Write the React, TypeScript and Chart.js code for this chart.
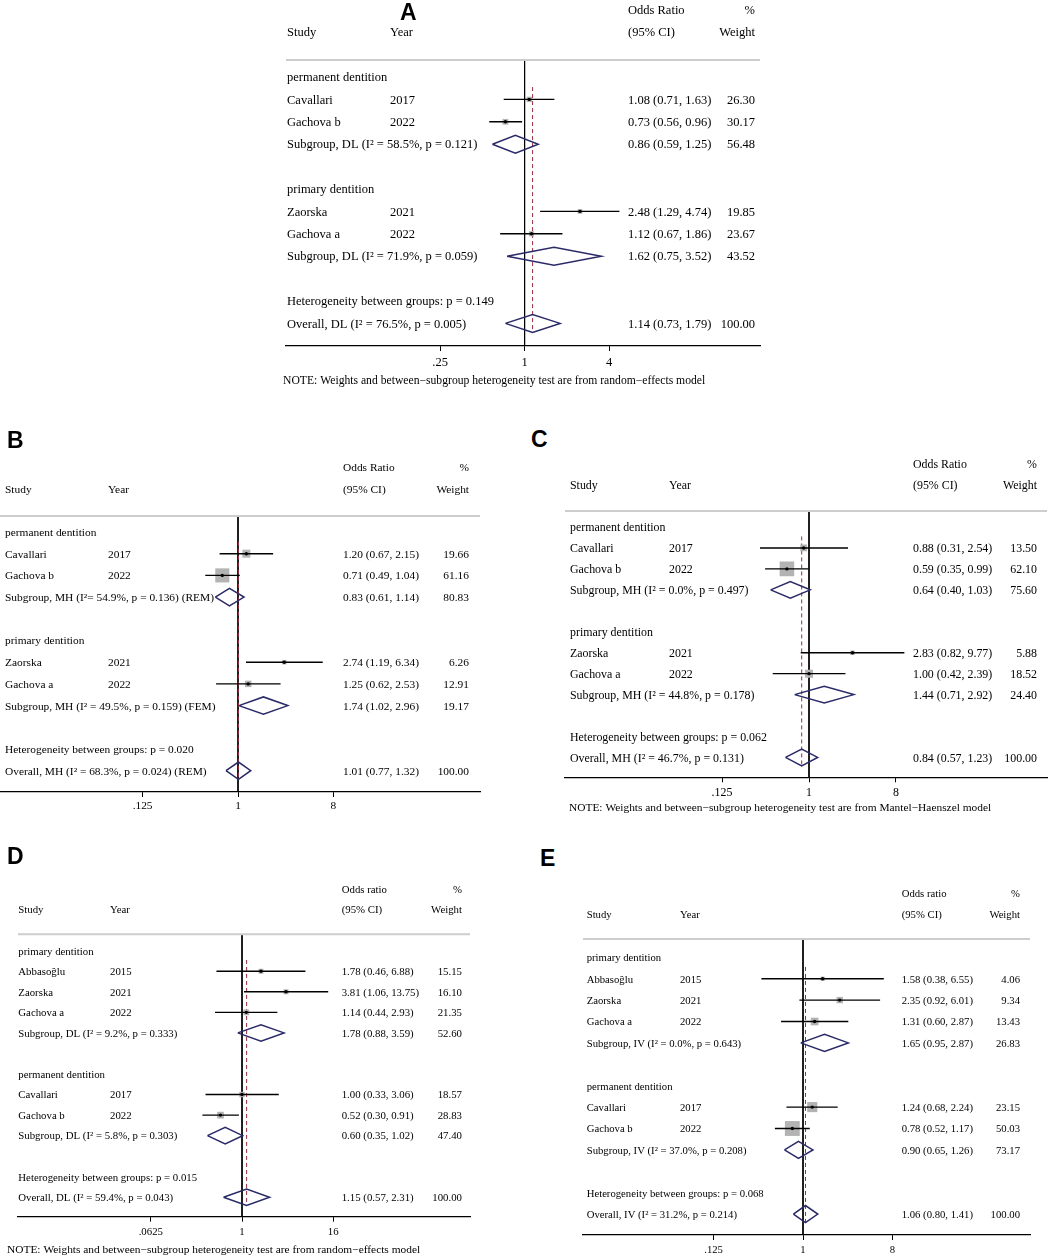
import React, { useEffect, useRef } from "react";
import { Chart, registerables } from "chart.js";
Chart.register(...registerables);

// ---------------- Panel A ----------------
const A_type = ["g", "s", "s", "d", "", "g", "s", "s", "d", "", "h", "o"];
const A_label = ["permanent dentition", "Cavallari", "Gachova b", "Subgroup, DL (I² = 58.5%, p = 0.121)", "", "primary dentition", "Zaorska", "Gachova a", "Subgroup, DL (I² = 71.9%, p = 0.059)", "", "Heterogeneity between groups: p = 0.149", "Overall, DL (I² = 76.5%, p = 0.005)"];
const A_year = ["", "2017", "2022", "", "", "", "2021", "2022", "", "", "", ""];
const A_or = [null, 1.08, 0.73, 0.86, null, null, 2.48, 1.12, 1.62, null, null, 1.14];
const A_lo = [null, 0.71, 0.56, 0.59, null, null, 1.29, 0.67, 0.75, null, null, 0.73];
const A_hi = [null, 1.63, 0.96, 1.25, null, null, 4.74, 1.86, 3.52, null, null, 1.79];
const A_weight = [null, 26.3, 30.17, 56.48, null, null, 19.85, 23.67, 43.52, null, null, 100.0];
const A_ticks = [0.25, 1, 4];
const A_tickLabels = [".25", "1", "4"];

// ---------------- Panel B ----------------
const B_type = ["g", "s", "s", "d", "", "g", "s", "s", "d", "", "h", "o"];
const B_label = ["permanent dentition", "Cavallari", "Gachova b", "Subgroup, MH (I²= 54.9%, p = 0.136) (REM)", "", "primary dentition", "Zaorska", "Gachova a", "Subgroup, MH (I² = 49.5%, p = 0.159) (FEM)", "", "Heterogeneity between groups: p = 0.020", "Overall, MH (I² = 68.3%, p = 0.024) (REM)"];
const B_year = ["", "2017", "2022", "", "", "", "2021", "2022", "", "", "", ""];
const B_or = [null, 1.2, 0.71, 0.83, null, null, 2.74, 1.25, 1.74, null, null, 1.01];
const B_lo = [null, 0.67, 0.49, 0.61, null, null, 1.19, 0.62, 1.02, null, null, 0.77];
const B_hi = [null, 2.15, 1.04, 1.14, null, null, 6.34, 2.53, 2.96, null, null, 1.32];
const B_weight = [null, 19.66, 61.16, 80.83, null, null, 6.26, 12.91, 19.17, null, null, 100.0];
const B_ticks = [0.125, 1, 8];
const B_tickLabels = [".125", "1", "8"];

// ---------------- Panel C ----------------
const C_type = ["g", "s", "s", "d", "", "g", "s", "s", "d", "", "h", "o"];
const C_label = ["permanent dentition", "Cavallari", "Gachova b", "Subgroup, MH (I² = 0.0%, p = 0.497)", "", "primary dentition", "Zaorska", "Gachova a", "Subgroup, MH (I² = 44.8%, p = 0.178)", "", "Heterogeneity between groups: p = 0.062", "Overall, MH (I² = 46.7%, p = 0.131)"];
const C_year = ["", "2017", "2022", "", "", "", "2021", "2022", "", "", "", ""];
const C_or = [null, 0.88, 0.59, 0.64, null, null, 2.83, 1.0, 1.44, null, null, 0.84];
const C_lo = [null, 0.31, 0.35, 0.4, null, null, 0.82, 0.42, 0.71, null, null, 0.57];
const C_hi = [null, 2.54, 0.99, 1.03, null, null, 9.77, 2.39, 2.92, null, null, 1.23];
const C_weight = [null, 13.5, 62.1, 75.6, null, null, 5.88, 18.52, 24.4, null, null, 100.0];
const C_ticks = [0.125, 1, 8];
const C_tickLabels = [".125", "1", "8"];

// ---------------- Panel D ----------------
const D_type = ["g", "s", "s", "s", "d", "", "g", "s", "s", "d", "", "h", "o"];
const D_label = ["primary dentition", "Abbasoğlu", "Zaorska", "Gachova a", "Subgroup, DL (I² = 9.2%, p = 0.333)", "", "permanent dentition", "Cavallari", "Gachova b", "Subgroup, DL (I² = 5.8%, p = 0.303)", "", "Heterogeneity between groups: p = 0.015", "Overall, DL (I² = 59.4%, p = 0.043)"];
const D_year = ["", "2015", "2021", "2022", "", "", "", "2017", "2022", "", "", "", ""];
const D_or = [null, 1.78, 3.81, 1.14, 1.78, null, null, 1.0, 0.52, 0.6, null, null, 1.15];
const D_lo = [null, 0.46, 1.06, 0.44, 0.88, null, null, 0.33, 0.3, 0.35, null, null, 0.57];
const D_hi = [null, 6.88, 13.75, 2.93, 3.59, null, null, 3.06, 0.91, 1.02, null, null, 2.31];
const D_weight = [null, 15.15, 16.1, 21.35, 52.6, null, null, 18.57, 28.83, 47.4, null, null, 100.0];
const D_ticks = [0.0625, 1, 16];
const D_tickLabels = [".0625", "1", "16"];

// ---------------- Panel E ----------------
const E_type = ["g", "s", "s", "s", "d", "", "g", "s", "s", "d", "", "h", "o"];
const E_label = ["primary dentition", "Abbasoğlu", "Zaorska", "Gachova a", "Subgroup, IV (I² = 0.0%, p = 0.643)", "", "permanent dentition", "Cavallari", "Gachova b", "Subgroup, IV (I² = 37.0%, p = 0.208)", "", "Heterogeneity between groups: p = 0.068", "Overall, IV (I² = 31.2%, p = 0.214)"];
const E_year = ["", "2015", "2021", "2022", "", "", "", "2017", "2022", "", "", "", ""];
const E_or = [null, 1.58, 2.35, 1.31, 1.65, null, null, 1.24, 0.78, 0.9, null, null, 1.06];
const E_lo = [null, 0.38, 0.92, 0.6, 0.95, null, null, 0.68, 0.52, 0.65, null, null, 0.8];
const E_hi = [null, 6.55, 6.01, 2.87, 2.87, null, null, 2.24, 1.17, 1.26, null, null, 1.41];
const E_weight = [null, 4.06, 9.34, 13.43, 26.83, null, null, 23.15, 50.03, 73.17, null, null, 100.0];
const E_ticks = [0.125, 1, 8];
const E_tickLabels = [".125", "1", "8"];

const NOTE_RE = "NOTE: Weights and between\u2212subgroup heterogeneity test are from random\u2212effects model";
const NOTE_MH = "NOTE: Weights and between\u2212subgroup heterogeneity test are from Mantel\u2212Haenszel model";

type Lay = {
  L: number; T: number; W: number; H: number; x1: number; x2: number; one: number; unit: number;
  y0: number; s: number; axisY: number; topLineY: number; studyX: number; yearX: number; estX: number;
  wRight: number; font: number; k: number; noteX?: number; noteY?: number; noteFont?: number; tickPad: number;
};

type PanelData = {
  type: string[]; label: string[]; year: string[]; or: (number | null)[]; lo: (number | null)[];
  hi: (number | null)[]; weight: (number | null)[]; ticks: number[]; tickLabels: string[];
  orHeader: string; note?: string;
};

const SERIF = '"Liberation Serif", "Times New Roman", serif';

function ForestPanel({ d, lay }: { d: PanelData; lay: Lay }) {
  const ref = useRef<HTMLCanvasElement>(null);
  useEffect(() => {
    if (!ref.current) return;
    const yTop = (lay.T - lay.y0) / lay.s;
    const yBot = (lay.axisY - lay.y0) / lay.s;
    const topRow = (lay.topLineY - lay.y0) / lay.s;
    const xMin = Math.pow(2, (lay.x1 - lay.one) / lay.unit);
    const xMax = Math.pow(2, (lay.x2 - lay.one) / lay.unit);
    const studies = d.type.map((t, i) => (t === "s" ? i : -1)).filter((i) => i >= 0);
    const dias = d.type.map((t, i) => (t === "d" || t === "o" ? i : -1)).filter((i) => i >= 0);
    const ov = d.type.indexOf("o");
    const gap = { x: NaN, y: NaN };
    const ci = studies.flatMap((i) => [{ x: d.lo[i], y: i }, { x: d.hi[i], y: i }, gap]);
    const dia = dias.flatMap((i) => [
      { x: d.lo[i], y: i }, { x: d.or[i], y: i - 0.4 }, { x: d.hi[i], y: i },
      { x: d.or[i], y: i + 0.4 }, { x: d.lo[i], y: i }, gap,
    ]);
    const pts = studies.map((i) => ({ x: d.or[i], y: i }));

    const textPlugin = {
      id: "forestText",
      afterDraw(chart: any) {
        const ctx = chart.ctx as CanvasRenderingContext2D;
        const ys = chart.scales.y;
        const X = (px: number) => px - lay.L;
        ctx.save();
        // header separator line
        ctx.strokeStyle = "#cdcdcd";
        ctx.lineWidth = 2;
        ctx.beginPath();
        const ty = ys.getPixelForValue(topRow);
        ctx.moveTo(chart.chartArea.left, ty);
        ctx.lineTo(chart.chartArea.right, ty);
        ctx.stroke();
        ctx.fillStyle = "#000";
        ctx.font = `${lay.font}px ${SERIF}`;
        ctx.textBaseline = "middle";
        const put = (t: string, px: number, row: number, align: CanvasTextAlign = "left") => {
          ctx.textAlign = align;
          ctx.fillText(t, X(px), ys.getPixelForValue(row) + 1);
        };
        put(d.orHeader, lay.estX, -3);
        put("%", lay.wRight, -3, "right");
        put("Study", lay.studyX, -2);
        put("Year", lay.yearX, -2);
        put("(95% CI)", lay.estX, -2);
        put("Weight", lay.wRight, -2, "right");
        d.type.forEach((t, i) => {
          if (!t) return;
          put(d.label[i], lay.studyX, i);
          if (d.year[i]) put(d.year[i], lay.yearX, i);
          const o = d.or[i], lo = d.lo[i], hi = d.hi[i], w = d.weight[i];
          if (o != null && lo != null && hi != null) {
            put(`${o.toFixed(2)} (${lo.toFixed(2)}, ${hi.toFixed(2)})`, lay.estX, i);
          }
          if (w != null) put(w.toFixed(2), lay.wRight, i, "right");
        });
        if (d.note && lay.noteX != null && lay.noteY != null) {
          ctx.font = `${lay.noteFont ?? lay.font}px ${SERIF}`;
          ctx.textAlign = "left";
          ctx.fillText(d.note, X(lay.noteX), lay.noteY - lay.T);
        }
        ctx.restore();
      },
    };

    const chart = new Chart(ref.current, {
      type: "scatter",
      data: {
        datasets: [
          { data: pts, pointStyle: "circle", pointRadius: 1.7, backgroundColor: "#000", borderWidth: 0, order: 0 } as any,
          { data: ci, showLine: true, borderColor: "#000", borderWidth: 1.4, pointRadius: 0, spanGaps: false, order: 1 } as any,
          { data: dia, showLine: true, borderColor: "#2a2a68", borderWidth: 1.5, pointRadius: 0, spanGaps: false, order: 2 } as any,
          {
            data: pts, pointStyle: "rect", backgroundColor: "#b3b3b3", borderWidth: 0, order: 3,
            pointRadius: (c: any) => (lay.k * Math.sqrt(d.weight[studies[c.dataIndex]] || 0)) / Math.SQRT2,
          } as any,
          {
            data: [{ x: d.or[ov], y: 0.45 }, { x: d.or[ov], y: ov + 0.4 }], showLine: true,
            borderColor: "#9a2c3c", borderWidth: 1, borderDash: [4, 3], pointRadius: 0, order: 4,
          } as any,
          {
            data: [{ x: 1, y: topRow }, { x: 1, y: yBot }], showLine: true,
            borderColor: "#000", borderWidth: 1, pointRadius: 0, order: 5,
          } as any,
        ],
      },
      options: {
        animation: false,
        responsive: false,
        maintainAspectRatio: false,
        events: [],
        layout: { autoPadding: false, padding: { left: lay.x1 - lay.L, right: lay.L + lay.W - lay.x2, top: 0, bottom: 0 } },
        plugins: { legend: { display: false }, tooltip: { enabled: false } },
        scales: {
          x: {
            type: "logarithmic",
            position: "bottom",
            min: xMin,
            max: xMax,
            bounds: "data",
            afterFit: (s: any) => { s.height = lay.T + lay.H - lay.axisY; },
            afterBuildTicks: (s: any) => { s.ticks = d.ticks.map((v) => ({ value: v })); },
            ticks: {
              autoSkip: false, maxRotation: 0, minRotation: 0, padding: lay.tickPad, color: "#000",
              font: { family: SERIF, size: lay.font },
              callback: (v: any) => { const j = d.ticks.indexOf(Number(v)); return j >= 0 ? d.tickLabels[j] : ""; },
            },
            grid: { drawOnChartArea: false, drawTicks: true, tickLength: 5, color: "#000", lineWidth: 1 },
            border: { display: true, color: "#000", width: 1.2 },
          } as any,
          y: {
            type: "linear", display: false, reverse: true, min: yTop, max: yBot, bounds: "data",
          } as any,
        },
      },
      plugins: [textPlugin],
    });
    return () => chart.destroy();
  }, []);
  return (
    <canvas ref={ref} width={lay.W} height={lay.H}
      style={{ position: "absolute", left: lay.L, top: lay.T, width: lay.W, height: lay.H }} />
  );
}

const layA: Lay = { L: 276, T: 0, W: 500, H: 395, x1: 286, x2: 760, one: 524.6, unit: 42.25, y0: 77, s: 22.4, axisY: 346, topLineY: 60, studyX: 287, yearX: 390, estX: 628, wRight: 755, font: 12.5, k: 1.05, noteX: 283, noteY: 381, noteFont: 11.65, tickPad: 4 };
const layB: Lay = { L: 0, T: 420, W: 485, H: 400, x1: 0, x2: 480, one: 238, unit: 31.8, y0: 532, s: 21.7, axisY: 792, topLineY: 516, studyX: 5, yearX: 108, estX: 343, wRight: 469, font: 11.4, k: 1.8, tickPad: 2 };
const layC: Lay = { L: 560, T: 420, W: 493, H: 400, x1: 565, x2: 1047, one: 809, unit: 29, y0: 527, s: 20.95, axisY: 777.3, topLineY: 511, studyX: 570, yearX: 669, estX: 913, wRight: 1037, font: 11.9, k: 1.85, noteX: 569, noteY: 808, noteFont: 11.4, tickPad: 3 };
const layD: Lay = { L: 0, T: 840, W: 480, H: 420, x1: 18, x2: 470, one: 242, unit: 22.8, y0: 950.7, s: 20.55, axisY: 1216.7, topLineY: 934.3, studyX: 18.3, yearX: 110, estX: 341.7, wRight: 462, font: 10.8, k: 1.25, noteX: 7, noteY: 1250, noteFont: 11.4, tickPad: 4 };
const layE: Lay = { L: 575, T: 840, W: 478, H: 420, x1: 583, x2: 1030, one: 803, unit: 29.8, y0: 957.3, s: 21.4, axisY: 1235, topLineY: 939, studyX: 586.7, yearX: 680, estX: 901.7, wRight: 1020, font: 10.7, k: 2.1, tickPad: 4 };

const dataA: PanelData = { type: A_type, label: A_label, year: A_year, or: A_or, lo: A_lo, hi: A_hi, weight: A_weight, ticks: A_ticks, tickLabels: A_tickLabels, orHeader: "Odds Ratio", note: NOTE_RE };
const dataB: PanelData = { type: B_type, label: B_label, year: B_year, or: B_or, lo: B_lo, hi: B_hi, weight: B_weight, ticks: B_ticks, tickLabels: B_tickLabels, orHeader: "Odds Ratio" };
const dataC: PanelData = { type: C_type, label: C_label, year: C_year, or: C_or, lo: C_lo, hi: C_hi, weight: C_weight, ticks: C_ticks, tickLabels: C_tickLabels, orHeader: "Odds Ratio", note: NOTE_MH };
const dataD: PanelData = { type: D_type, label: D_label, year: D_year, or: D_or, lo: D_lo, hi: D_hi, weight: D_weight, ticks: D_ticks, tickLabels: D_tickLabels, orHeader: "Odds ratio", note: NOTE_RE };
const dataE: PanelData = { type: E_type, label: E_label, year: E_year, or: E_or, lo: E_lo, hi: E_hi, weight: E_weight, ticks: E_ticks, tickLabels: E_tickLabels, orHeader: "Odds ratio" };

const letterStyle = (left: number, top: number): React.CSSProperties => ({
  position: "absolute", left, top, fontFamily: '"Liberation Sans", Arial, sans-serif', fontWeight: 700,
  fontSize: 23, lineHeight: 1, color: "#000",
});

export default function App() {
  return (
    <div style={{ position: "absolute", left: 0, top: 0, width: 1053, height: 1260, background: "#fff", overflow: "hidden" }}>
      <ForestPanel d={dataA} lay={layA} />
      <ForestPanel d={dataB} lay={layB} />
      <ForestPanel d={dataC} lay={layC} />
      <ForestPanel d={dataD} lay={layD} />
      <ForestPanel d={dataE} lay={layE} />
      <div style={letterStyle(400, 1)}>A</div>
      <div style={letterStyle(7, 429)}>B</div>
      <div style={letterStyle(531, 428)}>C</div>
      <div style={letterStyle(7, 845)}>D</div>
      <div style={letterStyle(540, 847)}>E</div>
    </div>
  );
}
